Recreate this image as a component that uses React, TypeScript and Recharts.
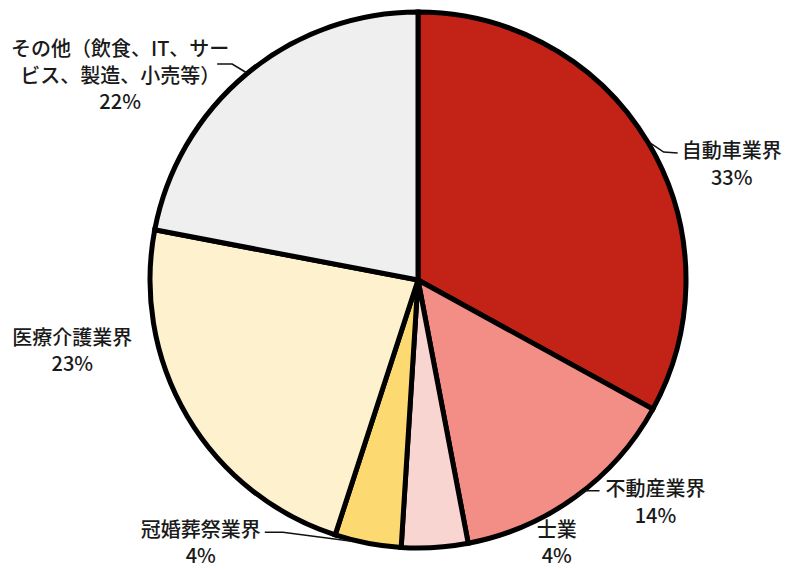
import { Cell, Pie, PieChart } from "recharts";

const categories = [
  "自動車業界",
  "不動産業界",
  "士業",
  "冠婚葬祭業界",
  "医療介護業界",
  "その他（飲食、IT、サー|ビス、製造、小売等）",
];
const shares = [33, 14, 4, 4, 23, 22];
const colors = ["#C32316", "#F28E86", "#F9D5D2", "#FDD971", "#FEF1CD", "#EFEFEF"];

// label layout, offsets from the slice's outer edge at midAngle
type LabelLayout = {
  text: [number, number];
  line?: [number, number][];
};
const labelLayout: LabelLayout[] = [
  { text: [83, 6], line: [[1, -1], [15, 8.5], [29, 9.5]] },
  { text: [80, -9], line: [[2, -1], [10, -6], [24, -6]] },
  { text: [122, -19] },
  { text: [-167, -15], line: [[-16, -2], [-85, -11], [-103, -11]] },
  { text: [-115, -80] },
  { text: [-127, -26], line: [[-1, -1], [-15, -9.5], [-30, -9.5]] },
];

const data = categories.map((name, i) => ({ name, value: shares[i] }));

const RADIAN = Math.PI / 180;
const LINE_H = 26.5;

function renderLabel(props: any) {
  const { cx, cy, midAngle, outerRadius, index, value, name } = props;
  const ex = cx + outerRadius * Math.cos(-midAngle * RADIAN);
  const ey = cy + outerRadius * Math.sin(-midAngle * RADIAN);
  const lay = labelLayout[index];
  const lines = [...String(name).split("|"), `${value}%`];
  const tx = ex + lay.text[0];
  const ty = ey + lay.text[1];
  return (
    <g key={`lbl-${index}`}>
      {lay.line && (
        <polyline
          points={lay.line.map(([dx, dy]) => `${ex + dx},${ey + dy}`).join(" ")}
          fill="none"
          stroke="#111"
          strokeWidth={1.5}
        />
      )}
      {lines.map((t, i) => (
        <text
          key={i}
          x={tx}
          y={ty + i * LINE_H}
          textAnchor="middle"
          dominantBaseline="central"
          fill="#1a1a1a"
          fontSize={20}
          fontWeight={500}
          fontFamily="'Noto Sans CJK JP', 'Noto Sans', sans-serif"
        >
          {t}
        </text>
      ))}
    </g>
  );
}

export default function App() {
  return (
    <div style={{ position: "absolute", left: 0, top: 0, background: "#fff" }}>
      <PieChart width={786} height={569} margin={{ top: 0, right: 0, bottom: 0, left: 0 }}>
        <Pie
          data={data}
          dataKey="value"
          nameKey="name"
          cx={418}
          cy={280}
          outerRadius={268}
          startAngle={90}
          endAngle={-270}
          stroke="#000"
          strokeWidth={5}
          label={renderLabel}
          labelLine={false}
          isAnimationActive={false}
        >
          {data.map((d, i) => (
            <Cell key={d.name} fill={colors[i]} />
          ))}
        </Pie>
      </PieChart>
    </div>
  );
}
